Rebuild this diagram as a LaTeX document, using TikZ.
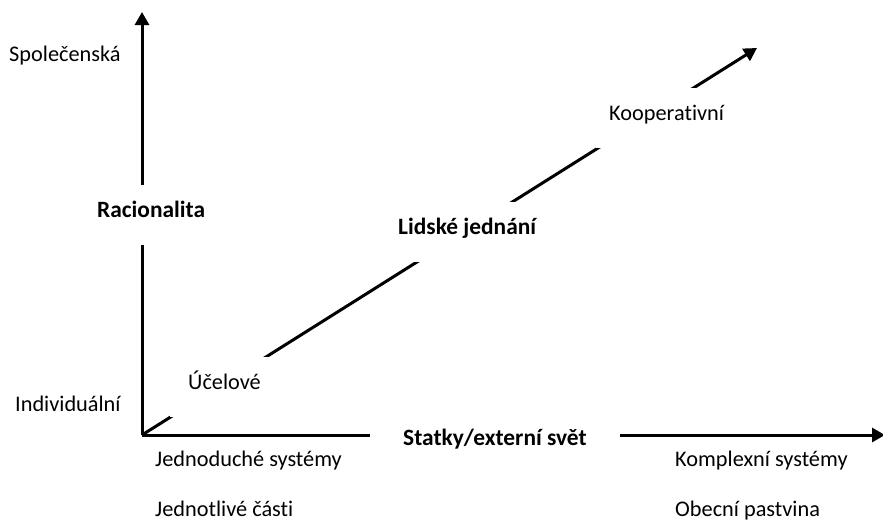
\documentclass[tikz,border=0pt]{standalone}
\usepackage{fontspec}
\setmainfont{Carlito}[Ligatures=NoCommon]
\usetikzlibrary{arrows.meta}
\tikzset{
  axis/.style={line width=3pt, -{Triangle[width=14pt,length=13pt]}},
  lbl/.style={inner sep=0pt, anchor=base west, font=\fontsize{22.3}{26}\selectfont},
  boldfont/.style={font=\bfseries\fontsize{23.4}{27}\selectfont},
  gaplbl/.style={fill=white, inner ysep=0pt, text height=32pt, text depth=28pt, anchor=base west, font=\fontsize{22.3}{26}\selectfont},
}
\begin{document}
\begin{tikzpicture}[x=1pt,y=-1pt]
\useasboundingbox (0,0) rectangle (883,522);
\coordinate (o) at (142,435);
\coordinate (ytip) at (142,12);
\coordinate (xtip) at (885,435);
\coordinate (dtip) at (757,48);
\draw[axis] (o) -- (ytip);
\draw[axis] (o) -- (xtip);
\draw[axis] (o) -- (dtip);
% labels that interrupt the axes
\node[gaplbl, inner xsep=4pt, boldfont] (rac) at (93,217) {Racionalita};
\node[gaplbl, inner xsep=18pt] (ucel) at (170,389) {Účelové};
\node[gaplbl, inner xsep=6pt, boldfont] (lid) at (392,234) {Lidské jednání};
\node[gaplbl, inner xsep=13pt] (koop) at (596,120) {Kooperativní};
\node[fill=white, inner ysep=3pt, inner xsep=33pt, anchor=base west, boldfont] (stat) at (370,445) {Statky/externí svět};
% plain labels
\node[lbl] (spol) at (9,61) {Společenská};
\node[lbl] (indiv) at (15,411) {Individuální};
\node[lbl] (jedn) at (155,466) {Jednoduché systémy};
\node[lbl] (kompl) at (675,466) {Komplexní systémy};
\node[lbl] (cast) at (155,516) {Jednotlivé části};
\node[lbl] (obec) at (675,516) {Obecní pastvina};
\end{tikzpicture}
\end{document}
